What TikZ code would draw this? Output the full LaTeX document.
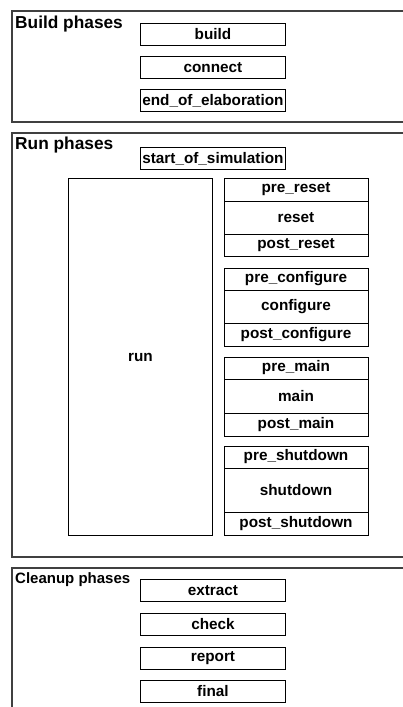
\documentclass[tikz,border=0pt]{standalone}
\usepackage{fontspec}
\setmainfont{Liberation Sans}
\begin{document}
\begin{tikzpicture}[x=1pt,y=-1pt,
  panel/.style={draw=black!75, line width=1.2pt},
  phase/.style={draw=black, line width=0.9pt, minimum width=145pt, minimum height=22pt,
    inner sep=0pt, font=\bfseries\fontsize{15.3}{16}\selectfont, anchor=north west},
  title/.style={anchor=base west, inner sep=0pt, font=\bfseries\fontsize{17.3}{19}\selectfont},
  sep/.style={draw=black, line width=0.9pt},
  lbl/.style={font=\bfseries\fontsize{15.3}{16}\selectfont, inner sep=0pt}]
\useasboundingbox (0,0) rectangle (402,707);

% ---- Build phases ----
\draw[panel] (420,11) -- (12,11) -- (12,122) -- (420,122);
\node[title] (tb) at (15,28) {Build phases};
\node[phase] (build) at (140,23) {build};
\node[phase] (connect) at (140,56) {connect};
\node[phase] (eoe) at (140,89) {end\_of\_elaboration};

% ---- Run phases ----
\draw[panel] (420,133) -- (12,133) -- (12,557) -- (420,557);
\node[title] (tr) at (15,149) {Run phases};
\node[phase] (sos) at (140,147) {start\_of\_simulation};
\node[draw, line width=0.9pt, anchor=north west, minimum width=144pt, minimum height=357pt,
  inner sep=0pt, font=\bfseries\fontsize{15.3}{16}\selectfont] (run) at (68,178) {run};

% reset group
\draw[sep] (224,178) rectangle (368,256);
\draw[sep] (224,201) -- (368,201);
\draw[sep] (224,234) -- (368,234);
\node[lbl] (prereset) at (296,189.5) {pre\_reset};
\node[lbl] (reset) at (296,217.5) {reset};
\node[lbl] (postreset) at (296,245) {post\_reset};

% configure group
\draw[sep] (224,268) rectangle (368,346);
\draw[sep] (224,290) -- (368,290);
\draw[sep] (224,323) -- (368,323);
\node[lbl] (precfg) at (296,279) {pre\_configure};
\node[lbl] (cfg) at (296,306.5) {configure};
\node[lbl] (postcfg) at (296,334.5) {post\_configure};

% main group
\draw[sep] (224,357) rectangle (368,436);
\draw[sep] (224,379) -- (368,379);
\draw[sep] (224,413) -- (368,413);
\node[lbl] (premain) at (296,368) {pre\_main};
\node[lbl] (main) at (296,396) {main};
\node[lbl] (postmain) at (296,424.5) {post\_main};

% shutdown group
\draw[sep] (224,446) rectangle (368,535);
\draw[sep] (224,468) -- (368,468);
\draw[sep] (224,512) -- (368,512);
\node[lbl] (preshut) at (296,457) {pre\_shutdown};
\node[lbl] (shut) at (296,490) {shutdown};
\node[lbl] (postshut) at (296,523.5) {post\_shutdown};

% ---- Cleanup phases ----
\draw[panel] (420,568) -- (12,568) -- (12,720);
\node[title, font=\bfseries\fontsize{15}{17}\selectfont] (tc) at (15,583) {Cleanup phases};
\node[phase] (extract) at (140,579) {extract};
\node[phase] (check) at (140,613) {check};
\node[phase] (report) at (140,647) {report};
\node[phase] (final) at (140,680) {final};
\end{tikzpicture}
\end{document}
